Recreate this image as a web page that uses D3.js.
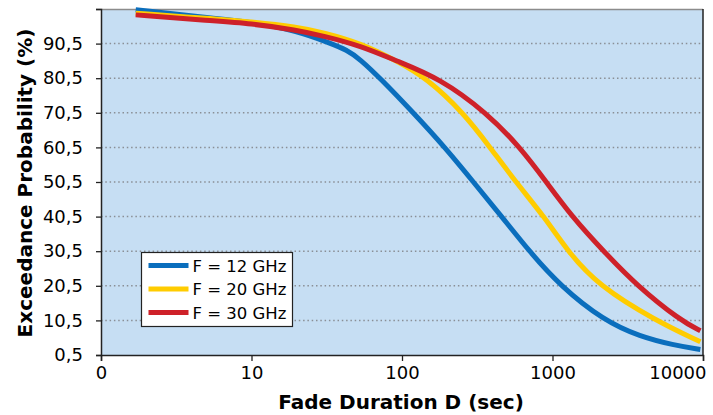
<!DOCTYPE html>
<html lang="en">
<head>
    <meta charset="UTF-8">
    <script src="https://d3js.org/d3.v7.min.js"></script>
    <style>
        body { margin: 0; background: #fff; }
        text { font-family: "DejaVu Sans", Verdana, sans-serif; fill: #000; }
    </style>
</head>
<body>
<div id="chart"></div>
<script>
    // fade duration D (sec) and exceedance probability (%)
    var f12D = [1.7, 5, 10, 20, 33, 43, 52.6, 71.6, 119, 193, 298, 460, 700, 1125, 2185, 3830, 6340, 9600];
    var f12P = [100.3, 98, 96.8, 94.2, 90.7, 88.7, 86, 80.5, 70.5, 60.5, 50.5, 40.5, 30.5, 20.5, 10.5, 5.8, 3.4, 2.1];

    var f20D = [1.7, 5, 10, 20, 30, 54, 92, 146, 256, 385, 570, 880, 1260, 2024, 4820, 9610];
    var f20P = [99.3, 97.8, 96.8, 95.3, 93.7, 90.5, 85.5, 80.5, 70.5, 60.5, 50.5, 40.5, 30.5, 20.5, 10.5, 4.3];

    var f30D = [1.7, 5, 10, 20, 30, 53, 92, 178, 366, 610, 910, 1346, 2183, 3646, 7075, 9610];
    var f30P = [98.8, 97.2, 96.3, 94.4, 92.7, 89.9, 85.5, 80.5, 70.5, 60.5, 50.5, 40.5, 30.5, 20.5, 10.5, 7.5];

    var seriesNames = ["F = 12 GHz", "F = 20 GHz", "F = 30 GHz"];
    var seriesColors = ["#0A6EBD", "#FFCC00", "#CE2129"];
    var yTicks = [0.5, 10.5, 20.5, 30.5, 40.5, 50.5, 60.5, 70.5, 80.5, 90.5];
    var xTicks = [1, 10, 100, 1000, 10000];
    var xTickLabels = ["0", "10", "100", "1000", "10000"];

    var margin = {top: 9, right: 10, bottom: 60, left: 101},
        width = 703 - margin.left,
        height = 355 - margin.top;

    var x = d3.scaleLog().domain([1, 10000]).range([0, width]);
    var y = d3.scaleLinear().domain([0.5, 100.5]).range([height, 0]);

    var svg = d3.select("#chart")
        .append("svg")
            .attr("width", 713)
            .attr("height", 415)
        .append("g")
            .attr("transform", "translate(" + margin.left + "," + margin.top + ")");

    // plot background
    svg.append("rect")
        .attr("width", width)
        .attr("height", height)
        .attr("fill", "#C6DEF3");

    // dotted grid
    svg.selectAll(".grid")
        .data(yTicks.slice(1))
        .enter().append("line")
        .attr("x1", 0)
        .attr("x2", width)
        .attr("y1", function(d) { return y(d); })
        .attr("y2", function(d) { return y(d); })
        .attr("stroke", "#8a8f96")
        .attr("stroke-width", 1.5)
        .attr("stroke-dasharray", "1.5,2.8");

    // top and right border
    svg.append("line").attr("x1", 0).attr("x2", width).attr("y1", 0.5).attr("y2", 0.5)
        .attr("stroke", "#8c8c8c").attr("stroke-width", 1.5);
    svg.append("line").attr("x1", width).attr("x2", width).attr("y1", 0).attr("y2", height)
        .attr("stroke", "#222").attr("stroke-width", 1.5);

    // axes
    var yAxis = d3.axisLeft(y)
        .tickValues(yTicks.concat([100.5]))
        .tickSize(5)
        .tickPadding(13)
        .tickFormat(function(d) { return d === 100.5 ? "" : d3.format(".1f")(d).replace(".", ","); });

    var gy = svg.append("g").call(yAxis);
    gy.selectAll("text").style("font-size", "18px").attr("font-family", null);

    var xAxis = d3.axisBottom(x)
        .tickValues(xTicks)
        .tickSize(6)
        .tickPadding(5)
        .tickFormat(function(d, i) { return xTickLabels[i]; });

    var gx = svg.append("g")
        .attr("transform", "translate(0," + height + ")")
        .call(xAxis);
    gx.selectAll("text").style("font-size", "18px").attr("font-family", null);
    // last label sits flush against the right edge, as in the original
    gx.selectAll(".tick text").filter(function(d) { return d === 10000; })
        .attr("text-anchor", "end")
        .attr("dx", 3);

    [gx, gy].forEach(function(g) {
        g.select(".domain").attr("stroke", "#222").attr("stroke-width", 1.5);
        g.selectAll(".tick line").attr("stroke", "#222").attr("stroke-width", 1.3);
    });

    // curves
    var line = d3.line()
        .curve(d3.curveBasis)
        .x(function(d) { return x(d[0]); })
        .y(function(d) { return y(d[1]); });

    [[f12D, f12P], [f20D, f20P], [f30D, f30P]].forEach(function(s, i) {
        svg.append("path")
            .datum(s[0].map(function(d, j) { return [d, s[1][j]]; }))
            .attr("d", line)
            .attr("fill", "none")
            .attr("stroke", seriesColors[i])
            .attr("stroke-width", 5);
    });

    // legend
    var legend = svg.append("g").attr("transform", "translate(" + (141.5 - margin.left) + "," + (252.5 - margin.top) + ")");
    legend.append("rect")
        .attr("width", 151)
        .attr("height", 74)
        .attr("fill", "#fff")
        .attr("stroke", "#222")
        .attr("stroke-width", 1.2);

    seriesNames.forEach(function(name, i) {
        var ly = 13 + i * 23.5;
        legend.append("line")
            .attr("x1", 7).attr("x2", 47)
            .attr("y1", ly).attr("y2", ly)
            .attr("stroke", seriesColors[i])
            .attr("stroke-width", 5);
        legend.append("text")
            .attr("x", 51)
            .attr("y", ly + 6)
            .style("font-size", "16.5px")
            .text(name.replace(" = ", " =\u00a0"));
    });

    // axis titles
    svg.append("text")
        .attr("x", 401 - margin.left)
        .attr("y", 409 - margin.top)
        .attr("text-anchor", "middle")
        .style("font-size", "20px")
        .style("font-weight", "bold")
        .text("Fade Duration D (sec)");

    svg.append("text")
        .attr("transform", "translate(" + (32 - margin.left) + "," + (183 - margin.top) + ") rotate(-90)")
        .attr("text-anchor", "middle")
        .style("font-size", "20px")
        .style("font-weight", "bold")
        .text("Exceedance Probability (%)");
</script>
</body>
</html>
